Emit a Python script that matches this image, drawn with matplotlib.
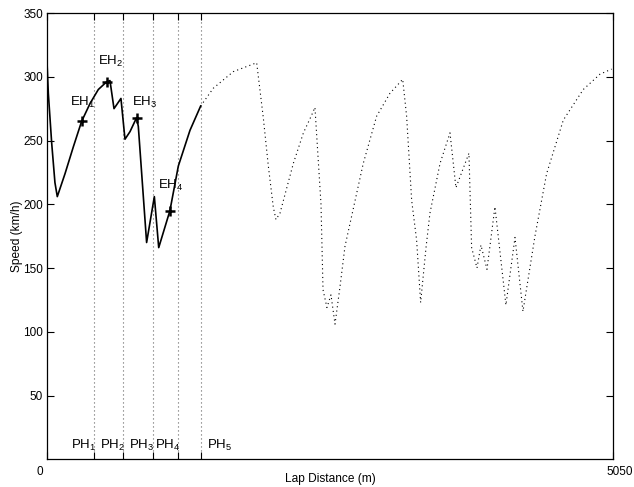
import matplotlib
matplotlib.use('Agg')
import matplotlib.pyplot as plt
import numpy as np

plt.rcParams['font.family'] = ['Liberation Sans', 'DejaVu Sans']
plt.rcParams['mathtext.default'] = 'regular'

# lap distance (m) / speed (km/h), first part solid (studied phases)
dist_solid = [0, 12, 42, 71, 92, 161, 235, 309, 384, 458, 532, 562, 598, 660, 696,
              741, 800, 815, 889, 958, 997, 1097, 1172, 1276, 1371]
speed_solid = [312, 287, 248, 217, 206, 224, 245, 265, 279, 290, 296, 297, 275, 283, 251,
               257, 268, 261, 170, 206, 166, 195, 230, 258, 277]

# rest of the lap (dotted)
dist_rest = [1371, 1484, 1662, 1871, 1930, 1975, 2019, 2043, 2079, 2198, 2288, 2362,
             2391, 2445, 2463, 2498, 2534, 2570, 2614, 2659, 2822, 2941, 3060, 3174,
             3209, 3254, 3298, 3334, 3382, 3417, 3507, 3596, 3649, 3765, 3789, 3837,
             3872, 3926, 3997, 4095, 4176, 4247, 4354, 4458, 4607, 4785, 4934, 5038]
speed_rest = [277, 291, 304, 311, 268, 230, 198, 188, 193, 232, 256, 270,
              276, 200, 133, 119, 129, 106, 135, 167, 232, 269, 287, 298,
              269, 203, 172, 123, 166, 193, 232, 256, 213, 240, 166, 150,
              168, 149, 198, 121, 174, 116, 175, 224, 266, 290, 302, 306]

# end-of-phase points
eh_dist = [309, 532, 800, 1097]
eh_speed = [265, 296, 268, 195]
eh_labels = [r'EH$_1$', r'EH$_2$', r'EH$_3$', r'EH$_4$']

# phase boundaries
ph_bounds = [424, 681, 943, 1173, 1371]
ph_labels = [r'PH$_1$', r'PH$_2$', r'PH$_3$', r'PH$_4$', r'PH$_5$']

lap_len = 5050
yticks = [50, 100, 150, 200, 250, 300, 350]

fig = plt.figure(figsize=(6.34, 4.87), dpi=100)
ax = fig.add_axes([0.0741, 0.0569, 0.8927, 0.9164])

for xb in ph_bounds:
    ax.axvline(xb, color='0.4', lw=0.8, ls=(0, (1, 2.6)), zorder=1)

ax.plot(dist_rest, speed_rest, color='black', lw=0.8, ls=(0, (1, 2.9)), zorder=2)
ax.plot(dist_solid, speed_solid, color='black', lw=1.2, zorder=3)
ax.plot(eh_dist, eh_speed, ls='none', marker='+', ms=7, mew=1.8,
        color='black', zorder=4)

offs = [(-12, 15), (-9, 17), (-5, 12), (-12, 22)]
for x, y, lab, (dx, dy) in zip(eh_dist, eh_speed, eh_labels, offs):
    ax.annotate(lab, (x, y), xytext=(dx, dy), textcoords='offset pixels',
                fontsize=9.5, ha='left', va='baseline')

for i, (xb, lab) in enumerate(zip(ph_bounds, ph_labels)):
    if i < len(ph_bounds) - 1:
        ax.annotate(lab, (xb, 7.8), xytext=(1.5, 0), textcoords='offset pixels',
                    fontsize=9.5, ha='right', va='baseline')
    else:
        ax.annotate(lab, (xb, 7.8), xytext=(6, 0), textcoords='offset pixels',
                    fontsize=9.5, ha='left', va='baseline')

ax.set_xlim(0, lap_len)
ax.set_ylim(0, 350)
ax.set_xticks([0] + ph_bounds + [lap_len])
ax.set_xticklabels([])
# end labels of the distance axis
ax.annotate('0', (0, 0), xytext=(-4, -13), textcoords='offset pixels',
            fontsize=8.5, ha='right', va='center')
ax.annotate(str(lap_len), (lap_len, 0), xytext=(20, -13), textcoords='offset pixels',
            fontsize=8.5, ha='right', va='center', annotation_clip=False)
ax.set_yticks(yticks)
ax.tick_params(direction='in', length=5, width=0.8, top=True, right=True,
               labelsize=8.5, pad=3)
for s in ax.spines.values():
    s.set_linewidth(0.9)

ax.set_xlabel('Lap Distance (m)', fontsize=8.6, labelpad=7)
ax.set_ylabel('Speed (km/h)', fontsize=8.6, labelpad=0)

fig.savefig('out.png', dpi=100)
